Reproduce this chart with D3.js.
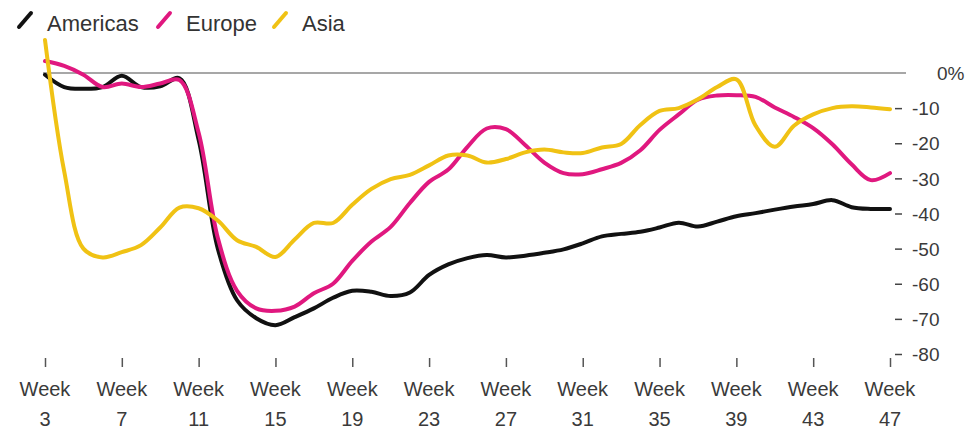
<!DOCTYPE html>
<html>
<head>
<meta charset="utf-8">
<script src="https://cdn.jsdelivr.net/npm/d3@7"></script>
<style>
  body { margin: 0; background: #fff; }
  svg { display: block; font-family: "Liberation Sans", Arial, sans-serif; }
</style>
</head>
<body>
<div id="chart"></div>
<script>
var w = 973
var h = 432

// weeks 3..47
var weeks = d3.range(3, 48)

var americas = [
  -0.5, -4, -4.5, -4, -0.8, -4, -3.8, -1.5, -19, -50,
  -64.7, -69.8, -71.8, -69.5, -67, -64, -62, -62.3, -63.5, -62.5,
  -57.5, -54.5, -52.7, -51.8, -52.5, -52, -51.2, -50.2, -48.5, -46.5,
  -45.8, -45.2, -44, -42.6, -43.7, -42.3, -40.8, -39.9, -38.9, -38,
  -37.3, -36.2, -38.2, -38.7, -38.7
]

var europe = [
  3.4, 2, -0.5, -4, -3, -4, -3, -2, -17, -47,
  -62, -67, -67.7, -66.5, -62.7, -60, -53.5, -48, -43.8, -37,
  -31, -27.5, -21, -15.8, -16, -20.5, -25.5, -28.5, -28.8, -27.4,
  -25.6, -22, -16.2, -11.8, -7.6, -6.4, -6.3, -6.8, -9.8, -12.5,
  -15.7, -20.3, -26, -30.5, -28.5
]

var asia = [
  9.4, -28, -50, -52.5, -51, -49, -44, -38.3, -38.5, -42,
  -47.6, -49.5, -52.4, -47.4, -42.7, -42.7, -37.5, -33, -30.2, -29,
  -26.3, -23.5, -23.5, -25.5, -24.5, -22.6, -21.8, -22.6, -22.8, -21.2,
  -20.2, -14.8, -10.8, -10, -7.5, -4, -1.8, -15, -21, -15,
  -11.8, -10, -9.5, -9.8, -10.3
]

var series_names = ['Americas', 'Europe', 'Asia']
var series_colors = ['#111111', '#e0187f', '#f0c214']
var series_values = [americas, europe, asia]

var x_ticks = [3, 7, 11, 15, 19, 23, 27, 31, 35, 39, 43, 47]
var y_ticks = [0, -10, -20, -30, -40, -50, -60, -70, -80]

var scale_x = d3.scaleLinear().domain([3, 47]).range([45, 890])
var scale_y = d3.scaleLinear().domain([0, -80]).range([73, 354])

var svg = d3.select('#chart').append('svg')
  .attr('width', w)
  .attr('height', h)
  .attr('viewBox', [0, 0, w, h].join(' '))

// zero line
svg.append('line')
  .attr('x1', 43)
  .attr('x2', 906)
  .attr('y1', scale_y(0))
  .attr('y2', scale_y(0))
  .attr('stroke', '#8a8a8a')
  .attr('stroke-width', 1.5)

// y axis on the right
var y_axis = svg.append('g')
  .attr('transform', 'translate(895,0)')
  .call(d3.axisRight(scale_y)
    .tickValues(y_ticks.slice(1))
    .tickSize(7)
    .tickPadding(10)
    .tickFormat(function (d) { return d }))
y_axis.select('.domain').remove()
y_axis.selectAll('line').attr('stroke', '#444').attr('stroke-width', 1.5)
y_axis.selectAll('text')
  .attr('fill', '#3a3a3a')
  .style('font-size', '19px')
  .attr('dy', '0.35em')

svg.append('text').text('0%')
  .attr('x', 937)
  .attr('y', scale_y(0))
  .attr('dy', '0.35em')
  .attr('fill', '#3a3a3a')
  .style('font-size', '19px')

// x axis
var x_axis = svg.append('g')
  .attr('transform', 'translate(0,358)')
  .call(d3.axisBottom(scale_x)
    .tickValues(x_ticks)
    .tickSize(9)
    .tickFormat(''))
x_axis.select('.domain').remove()
x_axis.selectAll('line').attr('stroke', '#555').attr('stroke-width', 1.5)

x_ticks.forEach(function (wk) {
  var t = svg.append('text')
    .attr('text-anchor', 'middle')
    .attr('fill', '#3a3a3a')
    .style('font-size', '20px')
  t.append('tspan').text('Week')
    .attr('x', scale_x(wk))
    .attr('y', 396)
  t.append('tspan').text(wk)
    .attr('x', scale_x(wk))
    .attr('y', 426)
})

// lines
var line = d3.line()
  .x(function (d, i) { return scale_x(weeks[i]) })
  .y(function (d) { return scale_y(d) })
  .curve(d3.curveCatmullRom.alpha(0.5))

series_values.forEach(function (vals, i) {
  svg.append('path')
    .datum(vals)
    .attr('d', line)
    .attr('fill', 'none')
    .attr('stroke', series_colors[i])
    .attr('stroke-width', 4)
    .attr('stroke-linejoin', 'round')
    .attr('stroke-linecap', 'round')
})

// legend
var legend_x = [18, 157, 273]
series_names.forEach(function (name, i) {
  var g = svg.append('g').attr('transform', 'translate(' + legend_x[i] + ',0)')
  g.append('line')
    .attr('x1', 1).attr('y1', 27)
    .attr('x2', 13).attr('y2', 13)
    .attr('stroke', series_colors[i])
    .attr('stroke-width', 4)
    .attr('stroke-linecap', 'round')
  g.append('text').text(name)
    .attr('x', 29)
    .attr('y', 31)
    .attr('fill', '#333')
    .style('font-size', '22px')
})
</script>
</body>
</html>
